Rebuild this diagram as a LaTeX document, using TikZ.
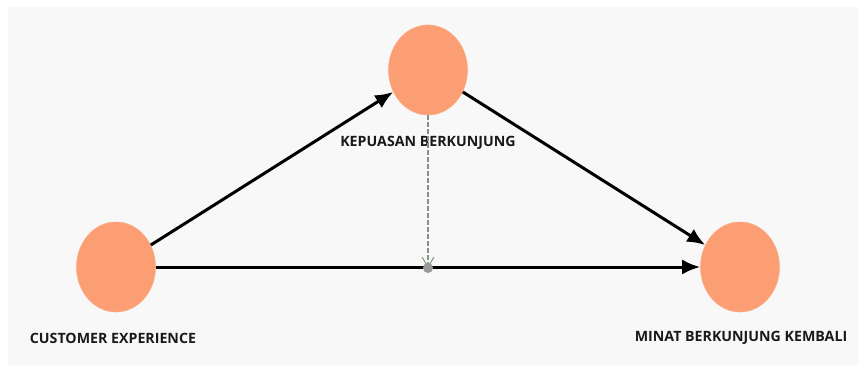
\documentclass[tikz,border=0pt]{standalone}
\usepackage{fontspec}
\setmainfont{Open Sans}
\usetikzlibrary{shapes.geometric, arrows.meta}

\definecolor{construct}{RGB}{252,158,116}
\definecolor{panelbg}{RGB}{248,248,248}
\definecolor{moderator}{RGB}{128,148,128}

\begin{document}
\begin{tikzpicture}[x=1pt, y=1pt,
    latent/.style={ellipse, fill=construct, draw=construct!85!white, line width=0.6pt,
                   minimum width=79pt, minimum height=90pt, inner sep=0pt},
    lbl/.style={font=\bfseries\fontsize{14.2}{16}\selectfont, text=black!90},
    path/.style={line width=3pt, -{Latex[length=18pt, width=15pt]}}]

  % canvas
  \useasboundingbox (0,0) rectangle (858,364);
  \fill[panelbg] (8,-1) rectangle (859,357);

  % constructs
  \node[latent] (kepuasan) at (428,294) {};
  \node[latent] (cx) at (116,97) {};
  \node[latent] (minat) at (740,97) {};

  % labels
  \node[lbl] (kepuasanlbl) at (428,221) {KEPUASAN BERKUNJUNG};
  \node[lbl] (cxlbl) at (113,26) {CUSTOMER EXPERIENCE};
  \node[lbl] (minatlbl) at (741,26) {MINAT BERKUNJUNG KEMBALI};

  % direct paths
  \draw[path] (cx) -- (kepuasan);
  \draw[path] (kepuasan) -- (minat);
  \draw[path] (cx) -- (minat);

  % mediating effect on the direct path
  \coordinate (mid) at (428,96);
  \draw[moderator, line width=1.3pt, dash pattern=on 5pt off 2pt,
        -{Straight Barb[length=10pt, width=12pt, line width=1pt]}] (kepuasan) -- (mid);
  \fill[gray!80] (mid) circle (5pt);
\end{tikzpicture}
\end{document}
